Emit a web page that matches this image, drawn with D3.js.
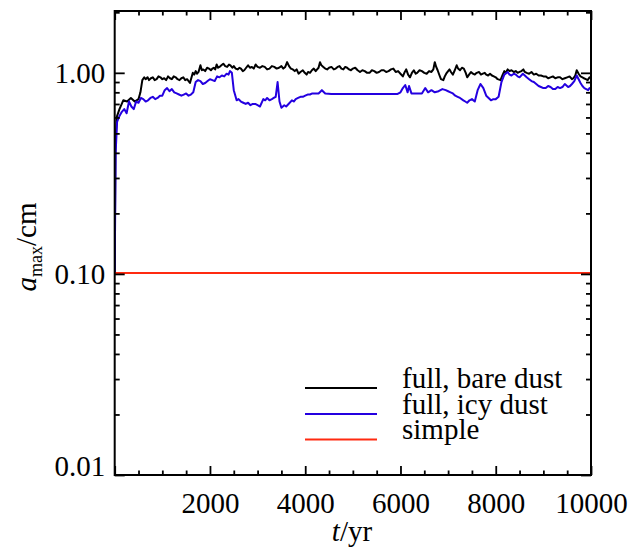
<!DOCTYPE html>
<html><head><meta charset="utf-8">
<script src="https://cdn.jsdelivr.net/npm/d3@7"></script>
<style>body{margin:0;background:#fff} svg{display:block} text{font-family:"Liberation Serif","Times New Roman",Tinos,"DejaVu Serif",serif;}</style>
</head><body>
<svg id="chart" width="644" height="548"></svg>
<script>
// [time in yr, a_max in cm]
const bareDust = [[0,0.10],[15,0.42],[40,0.60],[100,0.66],[180,0.73],[260,0.72],[340,0.75],[420,0.72],[500,0.74],[540,0.80],[580,0.92],[620,0.95],[650,0.93],[690,0.95],[720,0.92],[760,0.94],[800,0.95],[840,0.92],[880,0.93],[920,0.96],[960,0.95],[1000,0.93],[1040,0.94],[1080,0.92],[1120,0.96],[1160,0.94],[1200,0.93],[1240,0.96],[1280,0.95],[1320,0.93],[1360,0.92],[1400,0.94],[1440,0.95],[1480,0.92],[1520,0.93],[1580,0.89],[1640,1.00],[1670,0.98],[1700,1.02],[1730,0.99],[1760,1.01],[1800,1.09],[1830,1.03],[1860,1.04],[1900,1.02],[1940,1.06],[1980,1.05],[2020,1.03],[2050,1.05],[2080,1.06],[2110,1.04],[2140,1.10],[2170,1.06],[2200,1.07],[2240,1.09],[2280,1.11],[2320,1.08],[2360,1.07],[2400,1.10],[2430,1.09],[2470,1.06],[2500,1.08],[2540,1.05],[2580,1.04],[2620,1.06],[2650,1.05],[2690,1.02],[2720,1.03],[2760,1.06],[2800,1.09],[2840,1.06],[2880,1.07],[2920,1.05],[2960,1.10],[3000,1.07],[3050,1.06],[3100,1.08],[3150,1.07],[3200,1.04],[3250,1.05],[3300,1.08],[3350,1.07],[3400,1.05],[3450,1.06],[3500,1.08],[3540,1.05],[3580,1.07],[3620,1.13],[3660,1.08],[3700,1.05],[3740,1.04],[3780,1.02],[3820,1.04],[3860,0.99],[3900,1.01],[3950,1.03],[3990,1.00],[4030,0.98],[4060,1.01],[4100,1.00],[4140,1.03],[4180,1.05],[4220,1.02],[4250,1.04],[4280,1.06],[4310,1.13],[4340,1.09],[4380,1.07],[4420,1.05],[4460,1.04],[4500,1.06],[4550,1.07],[4600,1.04],[4640,1.05],[4680,1.07],[4720,1.08],[4760,1.05],[4800,1.04],[4840,1.07],[4880,1.06],[4920,1.04],[4960,1.03],[5000,1.05],[5050,1.06],[5100,1.03],[5150,1.01],[5200,1.03],[5250,1.02],[5300,1.00],[5350,1.00],[5400,1.03],[5450,1.02],[5500,1.00],[5550,1.01],[5600,1.03],[5650,1.03],[5700,1.01],[5750,1.02],[5800,1.04],[5850,1.05],[5900,1.01],[5950,1.02],[6000,0.99],[6050,0.96],[6090,1.01],[6120,1.04],[6160,0.98],[6200,0.95],[6240,1.00],[6280,1.03],[6320,0.99],[6350,1.00],[6400,1.03],[6450,1.02],[6500,1.00],[6550,0.99],[6600,1.02],[6650,1.01],[6690,1.04],[6720,1.13],[6750,1.07],[6780,1.03],[6820,0.97],[6850,0.93],[6900,0.92],[6930,0.96],[6960,0.99],[7000,1.02],[7030,1.04],[7060,1.01],[7100,0.98],[7140,1.03],[7180,1.09],[7210,1.05],[7250,1.03],[7290,1.06],[7330,1.05],[7370,1.00],[7400,0.95],[7440,0.98],[7480,1.01],[7520,0.99],[7560,0.98],[7600,1.00],[7650,1.01],[7690,0.98],[7730,0.99],[7770,1.00],[7800,0.98],[7840,0.97],[7880,0.99],[7920,0.97],[7960,0.96],[8000,0.95],[8040,0.93],[8100,0.92],[8140,0.97],[8180,1.02],[8210,1.00],[8250,1.04],[8290,1.02],[8330,1.03],[8380,1.01],[8420,1.02],[8460,1.00],[8500,1.01],[8540,1.02],[8580,1.04],[8610,1.01],[8650,1.00],[8700,0.99],[8750,1.01],[8800,0.98],[8850,0.99],[8900,0.97],[8950,0.97],[9000,0.96],[9050,0.96],[9100,0.94],[9150,0.95],[9200,0.96],[9250,0.94],[9300,0.95],[9350,0.95],[9400,0.93],[9450,0.94],[9500,0.95],[9550,0.96],[9600,0.93],[9630,0.94],[9670,0.97],[9700,1.03],[9740,0.99],[9780,0.96],[9820,0.95],[9850,0.94],[9890,0.93],[9930,0.92],[9970,0.95],[10000,0.94]];
const icyDust = [[0,0.10],[20,0.40],[50,0.57],[100,0.61],[150,0.64],[200,0.66],[250,0.63],[300,0.72],[350,0.68],[400,0.66],[450,0.72],[500,0.71],[550,0.75],[600,0.74],[650,0.72],[700,0.73],[750,0.75],[800,0.76],[850,0.74],[900,0.75],[950,0.77],[1000,0.77],[1050,0.82],[1100,0.84],[1150,0.81],[1200,0.83],[1250,0.80],[1300,0.79],[1350,0.78],[1400,0.77],[1450,0.78],[1500,0.79],[1550,0.77],[1600,0.78],[1650,0.80],[1700,0.90],[1750,0.92],[1800,0.91],[1850,0.88],[1900,0.89],[1950,0.91],[2000,0.93],[2050,0.92],[2100,0.91],[2150,0.96],[2200,0.95],[2250,0.97],[2300,0.96],[2350,0.99],[2390,0.98],[2420,1.02],[2460,1.00],[2500,0.82],[2560,0.73],[2600,0.74],[2650,0.72],[2700,0.71],[2750,0.70],[2800,0.71],[2850,0.69],[2900,0.70],[2950,0.70],[3000,0.69],[3050,0.68],[3120,0.74],[3160,0.73],[3200,0.75],[3250,0.73],[3300,0.74],[3340,0.75],[3380,0.76],[3420,0.90],[3460,0.72],[3500,0.67],[3560,0.69],[3600,0.68],[3650,0.70],[3720,0.73],[3760,0.72],[3800,0.74],[3850,0.75],[3900,0.76],[3950,0.76],[4000,0.77],[4050,0.78],[4100,0.78],[4150,0.79],[4200,0.79],[4280,0.79],[4350,0.82],[4420,0.79],[4550,0.785],[5000,0.785],[5500,0.785],[5940,0.785],[6000,0.80],[6050,0.84],[6100,0.87],[6150,0.80],[6180,0.86],[6230,0.79],[6300,0.79],[6450,0.79],[6520,0.84],[6580,0.80],[6650,0.82],[6720,0.80],[6800,0.81],[6880,0.83],[6950,0.82],[7000,0.81],[7050,0.80],[7100,0.79],[7150,0.77],[7200,0.76],[7250,0.75],[7320,0.73],[7360,0.72],[7400,0.71],[7450,0.73],[7500,0.74],[7560,0.72],[7620,0.82],[7680,0.88],[7740,0.84],[7800,0.77],[7850,0.75],[7900,0.73],[7950,0.74],[8000,0.74],[8060,0.76],[8120,0.90],[8180,0.98],[8250,1.01],[8290,0.98],[8330,0.97],[8380,0.99],[8420,0.98],[8460,0.96],[8500,0.95],[8570,0.99],[8610,0.97],[8650,0.95],[8700,0.93],[8750,0.91],[8800,0.90],[8850,0.88],[8900,0.86],[8950,0.85],[9000,0.84],[9050,0.84],[9100,0.86],[9150,0.85],[9200,0.83],[9250,0.83],[9300,0.85],[9350,0.84],[9400,0.85],[9450,0.88],[9520,0.85],[9560,0.86],[9600,0.88],[9650,0.91],[9700,0.97],[9740,0.93],[9780,0.89],[9820,0.86],[9860,0.84],[9900,0.83],[9940,0.82],[9970,0.84],[10000,0.83]];
const simpleModel = [[0,0.101],[10000,0.101]];

const xMajorTicks = [0,2000,4000,6000,8000,10000];
const xMinorTicks = [500,1000,1500,2500,3000,3500,4500,5000,5500,6500,7000,7500,8500,9000,9500];
const xTickLabels = ["","2000","4000","6000","8000","10000"];
const yMajorTicks = [0.01,0.1,1];
const yTickLabels = ["0.01","0.10","1.00"];
const yMinorTicks = [0.02,0.03,0.04,0.05,0.06,0.07,0.08,0.09,0.2,0.3,0.4,0.5,0.6,0.7,0.8,0.9,2];
const seriesNames = ["full, bare dust","full, icy dust","simple"];
const seriesColors = ["#000000","#2400e0","#ff2a10"];

const svg = d3.select("#chart");
const L = 114.7, R = 591, T = 11, B = 475;
const x = d3.scaleLinear().domain([0,10000]).range([L,R]);
const y = d3.scaleLog().domain([0.01,2.03]).range([B,T]);

svg.append("defs").append("clipPath").attr("id","clip")
  .append("rect").attr("x",L).attr("y",T).attr("width",R-L).attr("height",B-T);

const series = [bareDust, icyDust, simpleModel];
const line = d3.line().x(d=>x(d[0])).y(d=>y(d[1]));
const gLines = svg.append("g").attr("clip-path","url(#clip)");
series.forEach((s,i)=>{
  gLines.append("path").datum(s).attr("d",line)
    .attr("fill","none").attr("stroke",seriesColors[i])
    .attr("stroke-width",2).attr("stroke-linejoin","round");
});

function styleAxis(g){
  g.attr("font-family",null);
  g.select(".domain").remove();
  g.selectAll(".tick line").attr("stroke","#000").attr("stroke-width",1.8);
  g.selectAll("text").attr("font-size",29).attr("fill","#000");
}
// bottom
svg.append("g").attr("transform",`translate(0,${B})`)
  .call(d3.axisBottom(x).tickValues(xMajorTicks).tickSize(-9).tickPadding(17)
    .tickFormat((d,i)=>xTickLabels[i])).call(styleAxis);
svg.append("g").attr("transform",`translate(0,${B})`)
  .call(d3.axisBottom(x).tickValues(xMinorTicks).tickSize(-4.5).tickFormat("")).call(styleAxis);
// top
svg.append("g").attr("transform",`translate(0,${T})`)
  .call(d3.axisTop(x).tickValues(xMajorTicks).tickSize(-9).tickFormat("")).call(styleAxis);
svg.append("g").attr("transform",`translate(0,${T})`)
  .call(d3.axisTop(x).tickValues(xMinorTicks).tickSize(-4.5).tickFormat("")).call(styleAxis);
// left
const yl = svg.append("g").attr("transform",`translate(${L},0)`)
  .call(d3.axisLeft(y).tickValues(yMajorTicks).tickSize(-10).tickPadding(9.5)
    .tickFormat((d,i)=>yTickLabels[i])).call(styleAxis);
yl.selectAll(".tick text").attr("dy",(d)=> d===0.01 ? "0em" : "0.32em");
svg.append("g").attr("transform",`translate(${L},0)`)
  .call(d3.axisLeft(y).tickValues(yMinorTicks).tickSize(-5).tickFormat("")).call(styleAxis);
// right
svg.append("g").attr("transform",`translate(${R},0)`)
  .call(d3.axisRight(y).tickValues(yMajorTicks).tickSize(-10).tickFormat("")).call(styleAxis);
svg.append("g").attr("transform",`translate(${R},0)`)
  .call(d3.axisRight(y).tickValues(yMinorTicks).tickSize(-5).tickFormat("")).call(styleAxis);

// frame
svg.append("rect").attr("x",L).attr("y",T).attr("width",R-L).attr("height",B-T)
  .attr("fill","none").attr("stroke","#000").attr("stroke-width",2);

// axis titles
const xt = svg.append("text").attr("x",352).attr("y",541).attr("text-anchor","middle")
  .attr("font-size",29);
xt.append("tspan").attr("font-style","italic").text("t");
xt.append("tspan").text("/yr");

const yt = svg.append("text").attr("transform","translate(36,247) rotate(-90)")
  .attr("text-anchor","middle").attr("font-size",29);
yt.append("tspan").attr("font-style","italic").text("a");
yt.append("tspan").attr("font-size",18).attr("dy",6).text("max");
yt.append("tspan").attr("dy",-6).text("/cm");

// legend
const legY = [388,414,439.5];
seriesNames.forEach((n,i)=>{
  svg.append("line").attr("x1",305).attr("x2",377).attr("y1",legY[i]).attr("y2",legY[i])
    .attr("stroke",seriesColors[i]).attr("stroke-width",2);
  svg.append("text").attr("x",402).attr("y",legY[i]-0.5)
    .attr("font-size",29).text(n);
});
</script>
</body></html>
